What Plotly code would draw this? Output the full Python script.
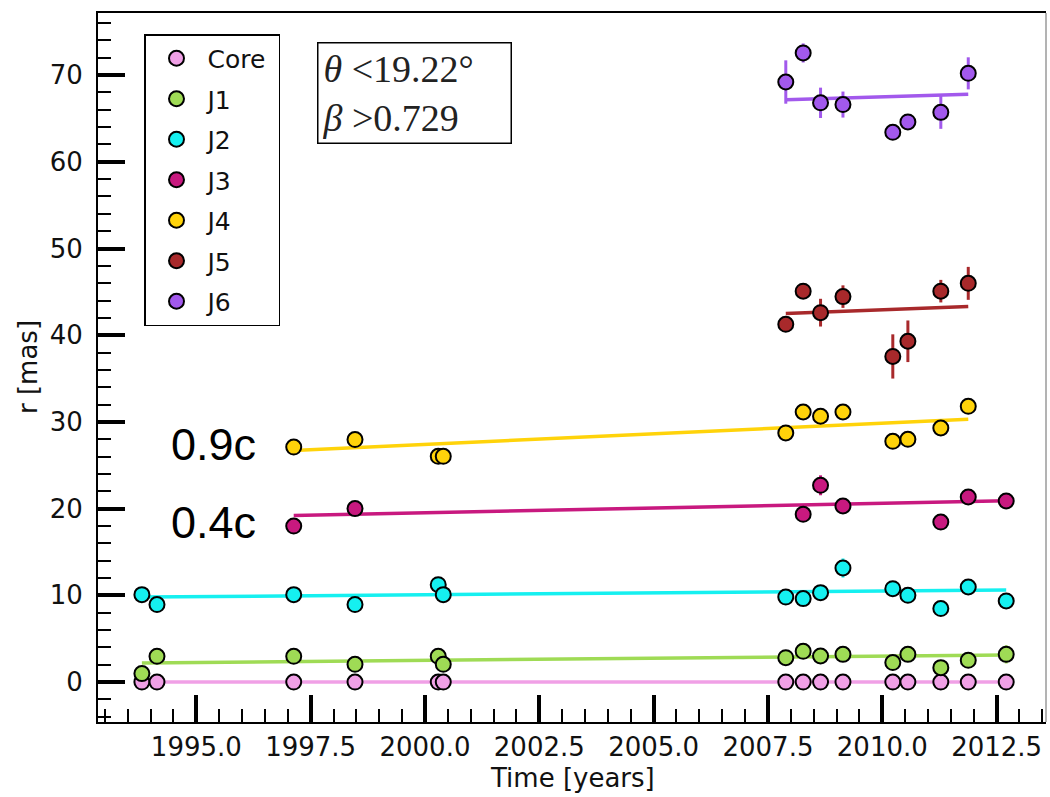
import plotly.graph_objects as go

# ---------------- data ----------------
epochs_all = [1993.81, 1994.14, 1997.13, 1998.47, 2000.29, 2000.40, 2007.89, 2008.27,
              2008.65, 2009.14, 2010.23, 2010.56, 2011.28, 2011.88, 2012.71]
epochs_j3 = [1997.13, 1998.47, 2008.27, 2008.65, 2009.14, 2011.28, 2011.88, 2012.71]
epochs_j4 = [1997.13, 1998.47, 2000.29, 2000.40, 2007.89, 2008.27, 2008.65, 2009.14,
             2010.23, 2010.56, 2011.28, 2011.88]
epochs_j56 = [2007.89, 2008.27, 2008.65, 2009.14, 2010.23, 2010.56, 2011.28, 2011.88]

core_r = [0, 0, 0, 0, 0, 0, 0, 0, 0, 0, 0, 0, 0, 0, 0]
core_err = [0.1] * 15
j1_r = [0.97, 2.96, 2.96, 2.04, 2.96, 2.04, 2.81, 3.54, 3.0, 3.19, 2.24, 3.19, 1.66, 2.5, 3.19]
j1_err = [0.4, 0.4, 0.4, 0.4, 0.4, 0.4, 0.4, 0.4, 0.4, 0.4, 0.4, 0.4, 0.4, 0.4, 1.05]
j2_r = [10.08, 8.93, 10.08, 8.93, 11.23, 10.08, 9.8, 9.62, 10.31, 13.15, 10.77, 10.0, 8.47, 10.96, 9.35]
j2_err = [0.5, 0.5, 0.5, 0.5, 0.5, 0.5, 0.5, 0.5, 0.5, 1.1, 0.5, 0.5, 0.5, 0.5, 0.5]
j3_r = [17.99, 20.0, 19.34, 22.69, 20.3, 18.45, 21.34, 20.88]
j3_err = [0.8, 0.6, 0.6, 1.15, 0.6, 0.6, 0.6, 0.6]
j4_r = [27.1, 27.96, 26.03, 26.03, 28.73, 31.14, 30.65, 31.14, 27.76, 27.99, 29.3, 31.8]
j4_err = [0.6] * 12
j5_r = [41.25, 45.08, 42.6, 44.45, 37.55, 39.3, 45.08, 45.98]
j5_err = [0.5, 0.6, 1.6, 1.3, 2.55, 2.4, 1.3, 1.9]
j6_r = [69.2, 72.55, 66.8, 66.6, 63.4, 64.6, 65.7, 70.2]
j6_err = [2.5, 1.1, 1.75, 1.5, 0.6, 0.6, 1.9, 1.85]

# linear fits: start year, end year, r at start, r at end
fit_names = ["Core", "J1", "J2", "J3", "J4", "J5", "J6"]
fit_x0 = [1993.81, 1993.81, 1993.81, 1997.13, 1997.13, 2007.89, 2007.89]
fit_x1 = [2012.71, 2012.71, 2012.71, 2012.71, 2011.88, 2011.88, 2011.88]
fit_r0 = [0.0, 2.2, 9.8, 19.2, 26.7, 42.5, 67.15]
fit_r1 = [0.0, 3.13, 10.6, 20.9, 30.3, 43.3, 67.8]

colors = ["#F0A0E6", "#9FDB55", "#15F0F0", "#C8197F", "#FFD30A", "#A8292B", "#A259EC"]

series = [
    ("Core", epochs_all, core_r, core_err),
    ("J1", epochs_all, j1_r, j1_err),
    ("J2", epochs_all, j2_r, j2_err),
    ("J3", epochs_j3, j3_r, j3_err),
    ("J4", epochs_j4, j4_r, j4_err),
    ("J5", epochs_j56, j5_r, j5_err),
    ("J6", epochs_j56, j6_r, j6_err),
]

# ---------------- figure ----------------
W, H = 1050, 797
L, R, T, B = 98, 4, 13, 75
pw, ph = W - L - R, H - T - B

fig = go.Figure()

for i, name in enumerate(fit_names):
    fig.add_trace(go.Scatter(
        x=[fit_x0[i], fit_x1[i]], y=[fit_r0[i], fit_r1[i]], mode="lines",
        line=dict(color=colors[i], width=3.5), showlegend=False, hoverinfo="skip"))

for i, (name, xs, ys, es) in enumerate(series):
    fig.add_trace(go.Scatter(
        x=xs, y=ys, mode="markers", name=name + "\u00a0", legendgroup=name,
        error_y=dict(type="data", array=es, visible=True, color=colors[i],
                     thickness=3, width=0),
        marker=dict(color=colors[i], size=15, line=dict(color="black", width=2)),
    ))

def px_x(p):
    return (p - L) / pw

def px_y(p):
    return (H - B - p) / ph

axis_font = dict(family="DejaVu Sans", size=26, color="#111111")

fig.update_layout(
    width=W, height=H,
    margin=dict(l=L, r=R, t=T, b=B),
    paper_bgcolor="white", plot_bgcolor="white",
    showlegend=True,
    legend=dict(
        x=px_x(144), y=px_y(34), xanchor="left", yanchor="top",
        bordercolor="black", borderwidth=1.5, bgcolor="white",
        font=dict(family="DejaVu Sans", size=25, color="#111111"),
        traceorder="grouped", tracegroupgap=5, itemwidth=52,
    ),
    xaxis=dict(
        range=[1992.85, 2013.58], showgrid=False, zeroline=False,
        showline=True, linecolor="black", linewidth=2, mirror=True,
        ticks="inside", ticklen=27, tickwidth=4, tickcolor="black",
        tick0=1995, dtick=2.5, tickformat=".1f", tickfont=axis_font,
        ticklabelstandoff=1,
        minor=dict(dtick=0.5, tick0=1995, ticks="inside", ticklen=13,
                   tickwidth=2, tickcolor="black"),
    ),
    yaxis=dict(
        range=[-4.61, 77.16], showgrid=False, zeroline=False,
        showline=True, linecolor="black", linewidth=2,
        ticks="inside", ticklen=27, tickwidth=4, tickcolor="black",
        tick0=0, dtick=10, tickfont=axis_font, ticklabelstandoff=8,
        minor=dict(dtick=2, tick0=0, ticks="inside", ticklen=13,
                   tickwidth=2, tickcolor="black"),
    ),
)

# right border (thin grey as in the reference)
fig.add_shape(type="line", xref="paper", yref="paper", x0=1, x1=1, y0=0, y1=1,
              line=dict(color="#9a9a9a", width=1.5))

annotations = [
    dict(text="Time [years]", x=0.5, y=px_y(778), xref="paper", yref="paper",
         xanchor="center", yanchor="middle", showarrow=False, font=axis_font),
    dict(text="r [mas]", x=px_x(27.5), y=0.5, xref="paper", yref="paper",
         xanchor="center", yanchor="middle", showarrow=False, font=axis_font,
         textangle=-90),
    dict(text="0.9c", x=px_x(213.5), y=px_y(445), xref="paper", yref="paper",
         xanchor="center", yanchor="middle", showarrow=False,
         font=dict(family="Liberation Sans", size=45, color="black")),
    dict(text="0.4c", x=px_x(213.5), y=px_y(522.5), xref="paper", yref="paper",
         xanchor="center", yanchor="middle", showarrow=False,
         font=dict(family="Liberation Sans", size=45, color="black")),
    dict(text="<i>θ</i> &lt;19.22°<br><i>β</i> &gt;0.729",
         x=px_x(317), y=px_y(42), xref="paper", yref="paper",
         xanchor="left", yanchor="top", showarrow=False, align="left",
         width=184, borderpad=4, bordercolor="black", borderwidth=1.5,
         bgcolor="white",
         font=dict(family="Liberation Serif", size=38, color="#222222")),
]
fig.update_layout(annotations=annotations)

fig.write_html("out.html")
